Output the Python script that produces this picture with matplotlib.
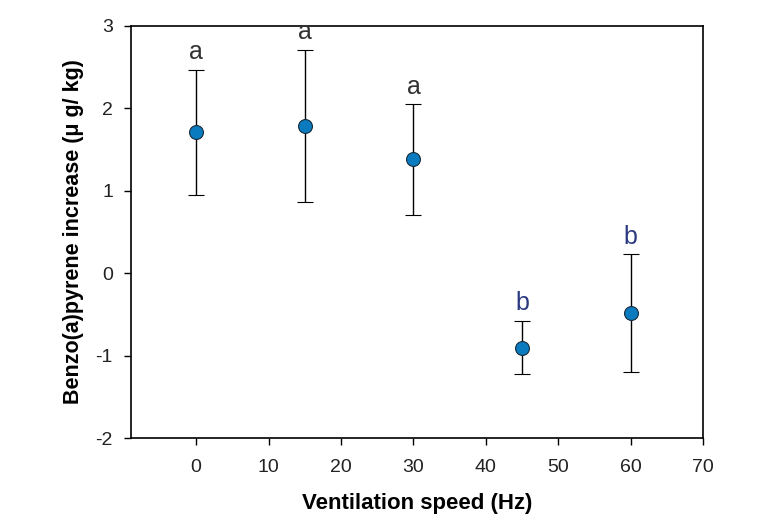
import numpy as np
import matplotlib.pyplot as plt

# Ventilation speed (Hz) and mean BaP increase with error limits
speed = [0, 15, 30, 45, 60]
bap_mean = [1.71, 1.79, 1.39, -0.90, -0.48]
err_upper = [2.47, 2.71, 2.05, -0.58, 0.23]
err_lower = [0.95, 0.86, 0.71, -1.22, -1.20]
letters = ['a', 'a', 'a', 'b', 'b']

plt.rc('font', family=['Liberation Sans', 'DejaVu Sans'])
plt.rc('axes', unicode_minus=False)

fig = plt.figure(figsize=(7.57, 5.28), dpi=100)
ax = fig.add_axes([0.173, 0.170, 0.756, 0.781])

mean = np.array(bap_mean)
yerr = [mean - np.array(err_lower), np.array(err_upper) - mean]
ax.errorbar(speed, bap_mean, yerr=yerr, fmt='o', color='black', ecolor='black',
            elinewidth=1, capsize=6, capthick=1, markersize=10,
            markerfacecolor='#0a7bbf', markeredgecolor='#1a2a3a', markeredgewidth=0.8)

# significance letters above each bar
for x, top, lab in zip(speed, err_upper, letters):
    col = '#333333' if lab == 'a' else '#2b3a80'
    ax.text(x, top + 0.13, lab, ha='center', va='baseline', fontsize=18, color=col)

ax.set_xlim(-9, 70)
ax.set_ylim(-2, 3)
ax.set_xticks(range(0, 71, 10))
ax.set_yticks(range(-2, 4))
ax.tick_params(direction='out', length=5, width=1, labelsize=14, labelcolor='#222222', pad=8)
ax.tick_params(axis='x', pad=10)
for s in ax.spines.values():
    s.set_linewidth(1.2)

ax.set_xlabel('Ventilation speed (Hz)', fontsize=16, fontweight='bold', labelpad=12)
ax.set_ylabel('Benzo(a)pyrene increase (μ g/ kg)', fontsize=15.5, fontweight='bold', labelpad=8)

fig.savefig('out.png', dpi=100)
